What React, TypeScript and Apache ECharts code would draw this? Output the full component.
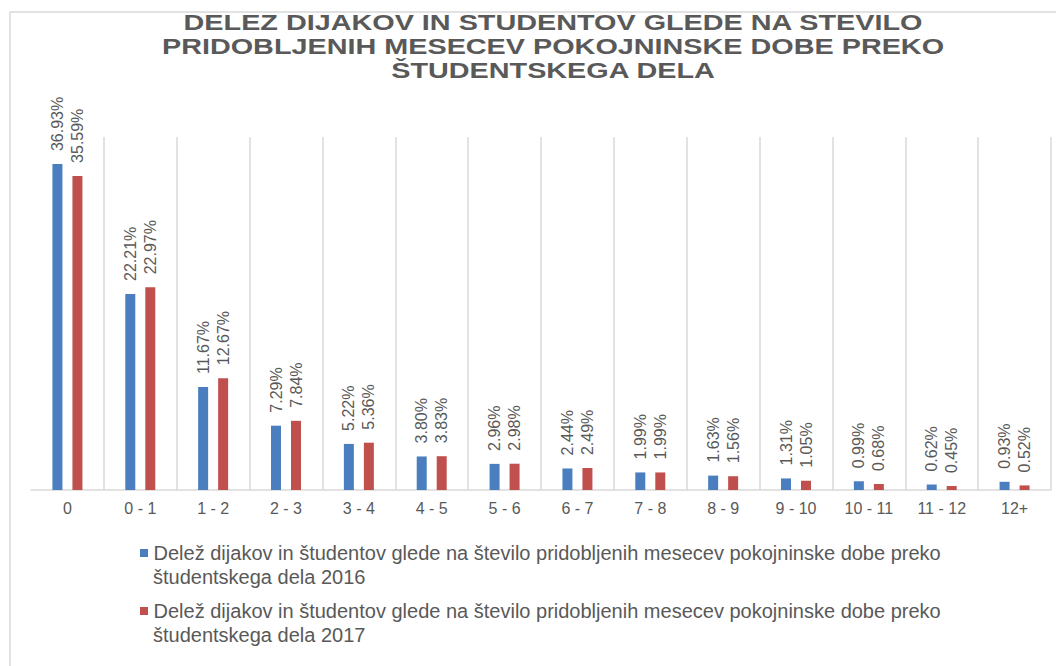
import React, { useEffect, useRef } from "react";
import * as echarts from "echarts";

const TITLE_LINES = [
  "DELEZ DIJAKOV IN STUDENTOV GLEDE NA STEVILO",
  "PRIDOBLJENIH MESECEV POKOJNINSKE DOBE PREKO",
  "ŠTUDENTSKEGA DELA",
];
const categories = ["0", "0 - 1", "1 - 2", "2 - 3", "3 - 4", "4 - 5", "5 - 6", "6 - 7", "7 - 8", "8 - 9", "9 - 10", "10 - 11", "11 - 12", "12+"];
const values2016 = [36.93, 22.21, 11.67, 7.29, 5.22, 3.8, 2.96, 2.44, 1.99, 1.63, 1.31, 0.99, 0.62, 0.93];
const values2017 = [35.59, 22.97, 12.67, 7.84, 5.36, 3.83, 2.98, 2.49, 1.99, 1.56, 1.05, 0.68, 0.45, 0.52];
const name2016 = "Delež dijakov in študentov glede na število pridobljenih mesecev pokojninske dobe preko študentskega dela 2016";
const name2017 = "Delež dijakov in študentov glede na število pridobljenih mesecev pokojninske dobe preko študentskega dela 2017";
const BLUE = "#4a7ebf";
const RED = "#c0504d";
const GRAY = "#595959";

export default function App() {
  const ref = useRef<HTMLDivElement>(null);
  useEffect(() => {
    const chart = echarts.init(ref.current!, null, { renderer: "svg" });
    const label = {
      show: true,
      position: "top",
      rotate: 90,
      align: "left",
      verticalAlign: "middle",
      distance: 13,
      color: GRAY,
      fontSize: 16,
      fontFamily: "Liberation Sans",
      formatter: (p: any) => p.value.toFixed(2) + "%",
    };
    chart.setOption({
      animation: false,
      backgroundColor: "#ffffff",
      graphic: [
        {
          type: "rect",
          shape: { x: 10, y: 12, width: 1200, height: 800 },
          style: { fill: "none", stroke: "#d9d9d9", lineWidth: 1.5 },
          silent: true,
          z: -1,
        },
        ...TITLE_LINES.map((t, i) => ({
          type: "text",
          x: 553,
          y: 22 + i * 24,
          scaleX: 1.28,
          style: {
            text: t,
            fill: GRAY,
            font: "bold 22.5px 'Liberation Sans'",
            textAlign: "center",
            textVerticalAlign: "middle",
          },
        })),
      ],
      legend: {
        orient: "vertical",
        left: 130,
        top: 538,
        icon: "none",
        itemWidth: 0,
        itemGap: 14,
        data: [name2016, name2017],
        formatter: (name: string) => {
          const m = name === name2016 ? "a" : "b";
          const year = name === name2016 ? "2016" : "2017";
          return (
            "{" + m + "|}{t| Delež dijakov in študentov glede na število pridobljenih mesecev pokojninske dobe preko}\n{pad|}{t|študentskega dela " +
            year +
            "}"
          );
        },
        textStyle: {
          color: GRAY,
          fontSize: 20,
          fontFamily: "Liberation Sans",
          rich: {
            a: { width: 8, height: 8, backgroundColor: BLUE, verticalAlign: "middle" },
            b: { width: 8, height: 8, backgroundColor: RED, verticalAlign: "middle" },
            pad: { width: 13, height: 8 },
            t: { fontSize: 20, color: GRAY, lineHeight: 24, fontFamily: "Liberation Sans" },
          },
        },
      },
      grid: { left: 31, right: 5, top: 137, bottom: 176, containLabel: false },
      xAxis: {
        type: "category",
        data: categories,
        axisLine: { lineStyle: { color: "#d9d9d9", width: 1.5 } },
        axisTick: { show: false },
        axisLabel: { color: GRAY, fontSize: 16, fontFamily: "Liberation Sans", margin: 10 },
        splitLine: { show: true, showMinLine: false, showMaxLine: true, lineStyle: { color: "#d9d9d9", width: 1.5 } },
      },
      yAxis: {
        type: "value",
        min: 0,
        max: 40,
        show: false,
        splitLine: { show: false },
      },
      series: [
        {
          name: name2016,
          type: "bar",
          data: values2016,
          barWidth: 10,
          barGap: "100%",
          itemStyle: { color: BLUE },
          label,
        },
        {
          name: name2017,
          type: "bar",
          data: values2017,
          barWidth: 10,
          barGap: "100%",
          itemStyle: { color: RED },
          label,
        },
      ],
    });
    return () => chart.dispose();
  }, []);
  return <div ref={ref} style={{ position: "absolute", left: 0, top: 0, width: 1056, height: 666 }} />;
}
